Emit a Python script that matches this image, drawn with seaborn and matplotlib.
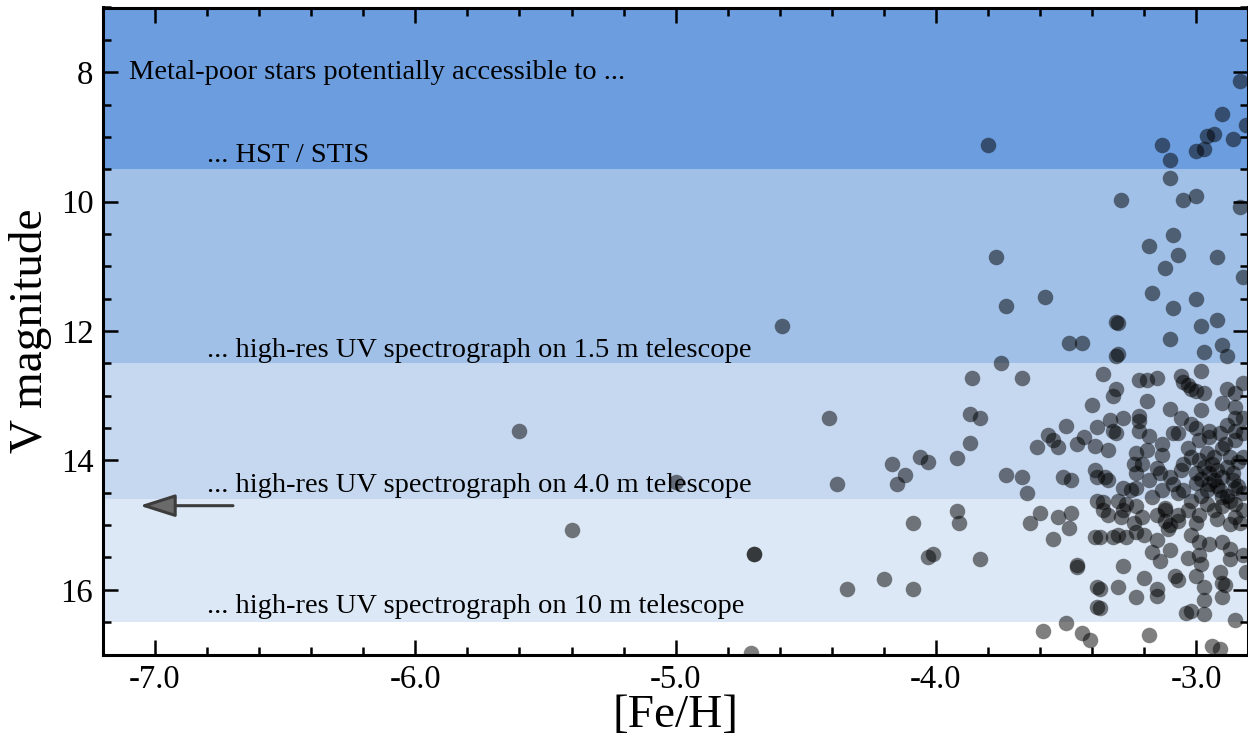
import matplotlib
matplotlib.use("Agg")
import matplotlib.pyplot as plt
from matplotlib.ticker import MultipleLocator, FixedLocator, FixedFormatter
import seaborn as sns
import pandas as pd

# ---------------- data ----------------
feh = [
    -2.83, -2.90, -2.81, -2.96, -2.93, -2.86, -3.13, -3.00, -2.97, -3.10,
    -3.80, -3.10, -3.29, -3.05, -3.00, -2.83, -3.09, -3.18, -3.07, -2.92,
    -3.12, -3.77, -2.82, -3.17, -3.00, -3.09, -3.58, -3.73, -3.31, -3.30,
    -2.92, -2.98, -4.59, -3.49, -3.44, -3.10, -2.90, -2.97, -2.88, -3.30,
    -3.31, -3.75, -3.36, -3.86, -3.67, -3.22, -3.19, -3.15, -3.06, -2.98,
    -3.05, -3.03, -3.02, -3.00, -2.97, -2.88, -2.85, -2.82, -3.31, -3.32,
    -3.19, -3.40, -3.10, -2.98, -2.90, -2.85, -2.82, -3.22, -3.22, -3.33,
    -3.28, -3.06, -3.02, -3.38, -3.32, -3.31, -3.22, -3.18, -3.07, -3.09,
    -2.99, -2.95, -2.91, -2.89, -2.85, -2.85, -2.82, -3.43, -3.39, -3.34,
    -3.23, -3.19, -3.13, -3.13, -3.03, -3.02, -2.99, -2.96, -2.90, -2.87,
    -2.84, -2.82, -3.39, -3.35, -3.34, -3.24, -3.23, -3.21, -3.15, -3.14,
    -3.10, -3.09, -3.00, -2.98, -2.95, -2.95, -2.93, -2.91, -2.90, -2.86,
    -2.85, -2.82, -3.28, -3.25, -3.23, -3.17, -3.13, -3.07, -3.05, -3.02,
    -3.03, -3.36, -3.30, -3.27, -3.28, -3.23, -3.12, -3.12, -3.07, -2.96,
    -2.93, -2.90, -2.87, -2.85, -2.82, -2.85, -3.34, -3.29, -3.24, -3.21,
    -3.15, -3.12, -3.07, -3.00, -2.92, -2.87, -2.83, -3.87, -3.83, -3.50,
    -3.57, -3.55, -3.53, -3.61, -3.46, -3.87, -3.92, -3.73, -3.67, -3.65,
    -3.51, -3.48, -3.38, -3.92, -3.91, -3.60, -3.64, -3.53, -3.48, -3.49,
    -3.38, -3.36, -4.41, -4.38, -4.17, -4.12, -4.15, -4.06, -4.03, -4.09,
    -4.70, -4.70, -4.03, -4.01, -4.20, -4.34, -4.09, -4.71, -5.60, -5.40,
    -5.00, -3.55, -3.39, -3.83, -3.46, -3.46, -3.38, -3.38, -3.59, -3.50,
    -3.44, -3.41, -3.37, -3.32, -3.30, -3.27, -3.28, -3.20, -3.37, -3.30,
    -3.37, -3.23, -3.15, -3.15, -3.08, -3.07, -2.97, -2.97, -2.97, -3.04,
    -3.02, -2.91, -2.90, -2.89, -2.90, -2.85, -3.18, -2.94, -2.91, -3.23,
    -3.20, -3.15, -3.11, -3.10, -3.17, -3.14, -3.03, -3.02, -2.99, -2.99,
    -2.98, -3.00, -2.95, -2.90, -2.87, -2.87, -2.82, -2.81, -2.97, -2.94,
    -2.92, -2.90, -2.88, -2.93, -3.00, -2.96, -2.86, -2.92, -2.98, -2.88,
    -2.84, -2.95, -3.00, -3.05, -3.06, -2.99, -3.10, -3.18, -2.85, -2.88,
]
vmag = [
    8.13, 8.64, 8.82, 8.98, 8.96, 9.04, 9.12, 9.22, 9.19, 9.36,
    9.12, 9.63, 9.97, 9.97, 9.91, 10.09, 10.51, 10.69, 10.83, 10.85,
    11.02, 10.85, 11.16, 11.42, 11.51, 11.65, 11.47, 11.62, 11.86, 11.88,
    11.83, 11.92, 11.93, 12.18, 12.18, 12.13, 12.22, 12.33, 12.39, 12.35,
    12.38, 12.49, 12.67, 12.73, 12.73, 12.75, 12.75, 12.73, 12.70, 12.62,
    12.79, 12.84, 12.89, 12.93, 12.96, 12.89, 12.96, 12.81, 12.89, 13.00,
    13.08, 13.15, 13.20, 13.22, 13.12, 13.18, 13.34, 13.31, 13.39, 13.38,
    13.35, 13.35, 13.43, 13.49, 13.54, 13.58, 13.54, 13.62, 13.58, 13.57,
    13.69, 13.64, 13.58, 13.74, 13.54, 13.69, 13.58, 13.64, 13.77, 13.84,
    13.88, 13.84, 13.74, 13.92, 13.81, 13.95, 14.00, 13.89, 13.81, 13.95,
    14.03, 13.95, 14.15, 14.26, 14.31, 14.05, 14.19, 14.05, 14.11, 14.20,
    14.26, 14.36, 14.20, 14.28, 14.19, 14.36, 14.31, 14.46, 14.57, 14.31,
    14.42, 14.51, 14.42, 14.46, 14.42, 14.57, 14.46, 14.51, 14.46, 14.62,
    14.77, 14.65, 14.62, 14.67, 14.77, 14.70, 14.73, 14.77, 14.85, 14.67,
    14.77, 14.70, 14.62, 14.67, 14.77, 14.88, 14.85, 14.88, 14.96, 14.88,
    14.85, 14.93, 14.93, 14.96, 14.90, 14.98, 14.96, 13.28, 13.34, 13.47,
    13.61, 13.68, 13.80, 13.80, 13.74, 13.73, 13.97, 14.23, 14.25, 14.51,
    14.25, 14.31, 14.26, 14.78, 14.96, 14.82, 14.96, 14.88, 14.82, 15.04,
    14.62, 14.77, 13.34, 14.36, 14.05, 14.22, 14.36, 13.94, 14.03, 14.97,
    15.44, 15.45, 15.50, 15.45, 15.84, 15.99, 15.99, 16.97, 13.55, 15.07,
    14.34, 15.21, 15.18, 15.52, 15.62, 15.64, 15.96, 16.26, 16.63, 16.52,
    16.67, 16.78, 15.19, 15.19, 15.16, 15.19, 15.63, 15.82, 15.98, 15.96,
    16.28, 16.11, 15.98, 16.09, 15.79, 15.85, 15.95, 16.15, 16.37, 16.36,
    16.33, 15.73, 15.89, 15.93, 16.11, 16.46, 16.70, 16.87, 16.92, 15.10,
    15.15, 15.23, 15.06, 15.38, 15.41, 15.55, 15.51, 15.15, 15.26, 15.46,
    15.60, 15.79, 15.29, 15.26, 15.37, 15.52, 15.46, 15.73, 14.10, 14.05,
    14.15, 14.25, 14.10, 13.95, 14.35, 14.45, 14.20, 14.40, 14.55, 14.55,
    14.40, 13.55, 13.50, 14.05, 14.15, 14.85, 15.00, 14.30, 13.35, 13.45,
]

# accessibility bands (V magnitude limits) and labels
band_top = [7.0, 9.5, 12.5, 14.6]
band_bottom = [9.5, 12.5, 14.6, 16.5]
band_colors = ["#6b9ddf", "#a0c0e8", "#c6d8f0", "#dde8f6"]

title_text = "Metal-poor stars potentially accessible to ..."
band_labels = [
    "... HST / STIS",
    "... high-res UV spectrograph on 1.5 m telescope",
    "... high-res UV spectrograph on 4.0 m telescope",
    "... high-res UV spectrograph on 10 m telescope",
]
label_y = [9.29, 12.30, 14.39, 16.26]

x_ticks = [-7.0, -6.0, -5.0, -4.0, -3.0]
x_ticklabels = ["-7.0", "-6.0", "-5.0", "-4.0", "-3.0"]
y_ticks = [8, 10, 12, 14, 16]
y_ticklabels = ["8", "10", "12", "14", "16"]

# ---------------- plot ----------------
sns.set_style("ticks")
plt.rcParams["font.family"] = ["Liberation Serif", "DejaVu Serif"]
plt.rcParams["axes.unicode_minus"] = False
plt.rcParams["text.color"] = "black"
plt.rcParams["axes.labelcolor"] = "black"
plt.rcParams["xtick.color"] = "black"
plt.rcParams["ytick.color"] = "black"

fig = plt.figure(figsize=(12.48, 7.40), dpi=100)
ax = fig.add_axes([103 / 1248, 85.5 / 740, 1145.3 / 1248, 647 / 740])

for top, bot, col in zip(band_top, band_bottom, band_colors):
    ax.axhspan(top, bot, color=col, zorder=0, lw=0)

df = pd.DataFrame({"feh": feh, "vmag": vmag})
sns.scatterplot(data=df, x="feh", y="vmag", s=125, color="black",
                alpha=0.5, linewidth=0, ax=ax, zorder=3, legend=False)

ax.set_xlim(-7.2, -2.8)
ax.set_ylim(17.0, 7.0)

ax.text(-7.10, 8.0, title_text, fontsize=20.5, va="center", ha="left",
        color="black", zorder=5)
for lab, yy in zip(band_labels, label_y):
    ax.text(-6.80, yy, lab, fontsize=20.5, va="center", ha="left",
            color="black", zorder=5)

ax.annotate("", xy=(-7.07, 14.70), xytext=(-6.69, 14.70),
            arrowprops=dict(arrowstyle="-|>,head_length=1.1,head_width=0.35",
                            mutation_scale=20, lw=2.2, ec="#3c3c3c", fc="#6a6a6a"),
            zorder=5)

ax.xaxis.set_major_locator(FixedLocator(x_ticks))
ax.xaxis.set_major_formatter(FixedFormatter(x_ticklabels))
ax.yaxis.set_major_locator(FixedLocator(y_ticks))
ax.yaxis.set_major_formatter(FixedFormatter(y_ticklabels))
ax.xaxis.set_minor_locator(MultipleLocator(0.2))
ax.yaxis.set_minor_locator(MultipleLocator(0.5))

ax.tick_params(which="both", direction="in", top=True, right=True,
               width=1.8, color="black", labelcolor="black")
ax.tick_params(which="major", length=11, labelsize=23.5, pad=7)
ax.tick_params(which="minor", length=6)

for sp in ax.spines.values():
    sp.set_linewidth(2.2)
    sp.set_color("black")
    sp.set_zorder(6)

ax.set_xlabel("[Fe/H]", fontsize=34, labelpad=0, color="black")
ax.set_ylabel("V magnitude", fontsize=34, labelpad=6, color="black")

fig.savefig("out.png", dpi=100)
